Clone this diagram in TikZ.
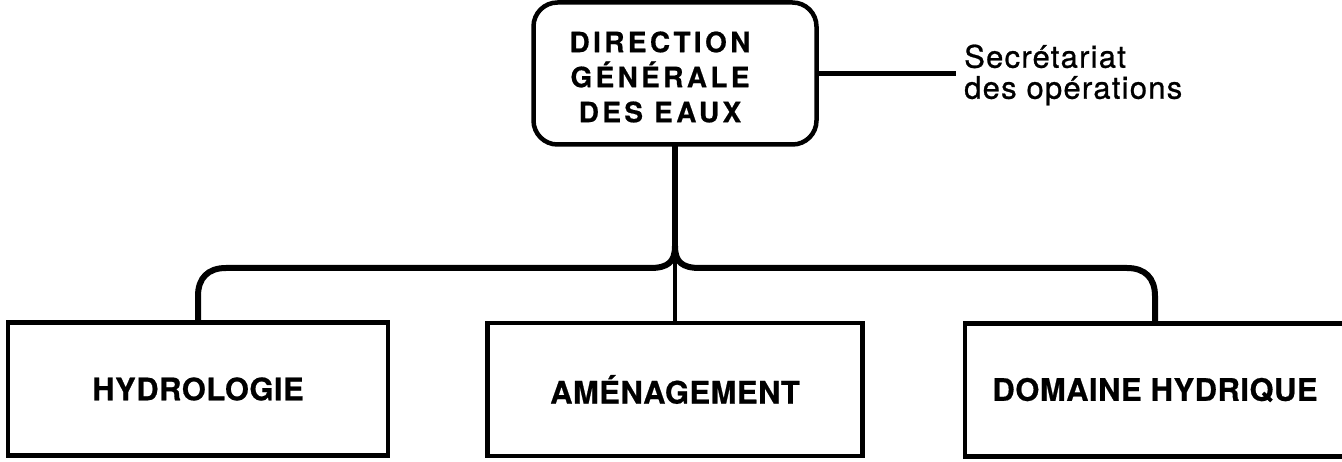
\documentclass[tikz,border=0pt]{standalone}
\usepackage{fontspec}
\newfontfamily\boxfont[LetterSpace=1.5,FakeBold=0.6]{TeX Gyre Heros}
\newfontfamily\topfont[LetterSpace=12,FakeBold=0.6]{TeX Gyre Heros}
\newfontfamily\secfont[LetterSpace=4,FakeBold=0.8]{TeX Gyre Heros}
\begin{document}
\begin{tikzpicture}[x=1pt,y=-1pt,
  frame/.style={draw,line width=4.5pt,inner sep=0pt,outer sep=0pt},
  unit/.style={frame,minimum width=380pt,minimum height=133pt,
    font=\boxfont\bfseries\fontsize{31}{36}\selectfont},
  branch/.style={line width=6pt},
  stem/.style={line width=4.5pt}]
\useasboundingbox (0,0) rectangle (1342,462);
\node[frame,rounded corners=24pt,minimum width=283pt,minimum height=142pt] (dg) at (675,73.5) {};
\node[align=center,inner sep=0pt,
  font=\topfont\bfseries\fontsize{28}{35}\selectfont] (dgt) at (660,77)
  {DIRECTION\\GÉNÉRALE\\DES EAUX};
\node[unit] (hyd) at (198,389) {HYDROLOGIE};
\node[unit,minimum width=375pt] (ame) at (675,389.5) {AMÉNAGEMENT};
\node[unit] (dom) at (1155,390) {DOMAINE HYDRIQUE};
\node[anchor=west,align=left,inner sep=0pt,
  font=\secfont\fontsize{31}{31}\selectfont] (sec) at (964,75)
  {Secrétariat\\des opérations};
\coordinate (J) at (dg.south |- 0,246);
\draw[stem] (dg.east) -- (dg.east -| sec.west) [shorten >=8pt];
\draw[branch] (dg.south) -- (J);
\draw[branch] (J) .. controls (675,262) and (668,268) .. (650,268) -- (226,268)
  .. controls (208,268) and (198,278) .. (198,296) -- (hyd.north);
\draw[branch] (J) .. controls (675,262) and (682,268) .. (700,268) -- (1127,268)
  .. controls (1145,268) and (1155,278) .. (1155,296) -- (dom.north);
\draw[stem] (J) -- (ame.north);
\end{tikzpicture}
\end{document}
